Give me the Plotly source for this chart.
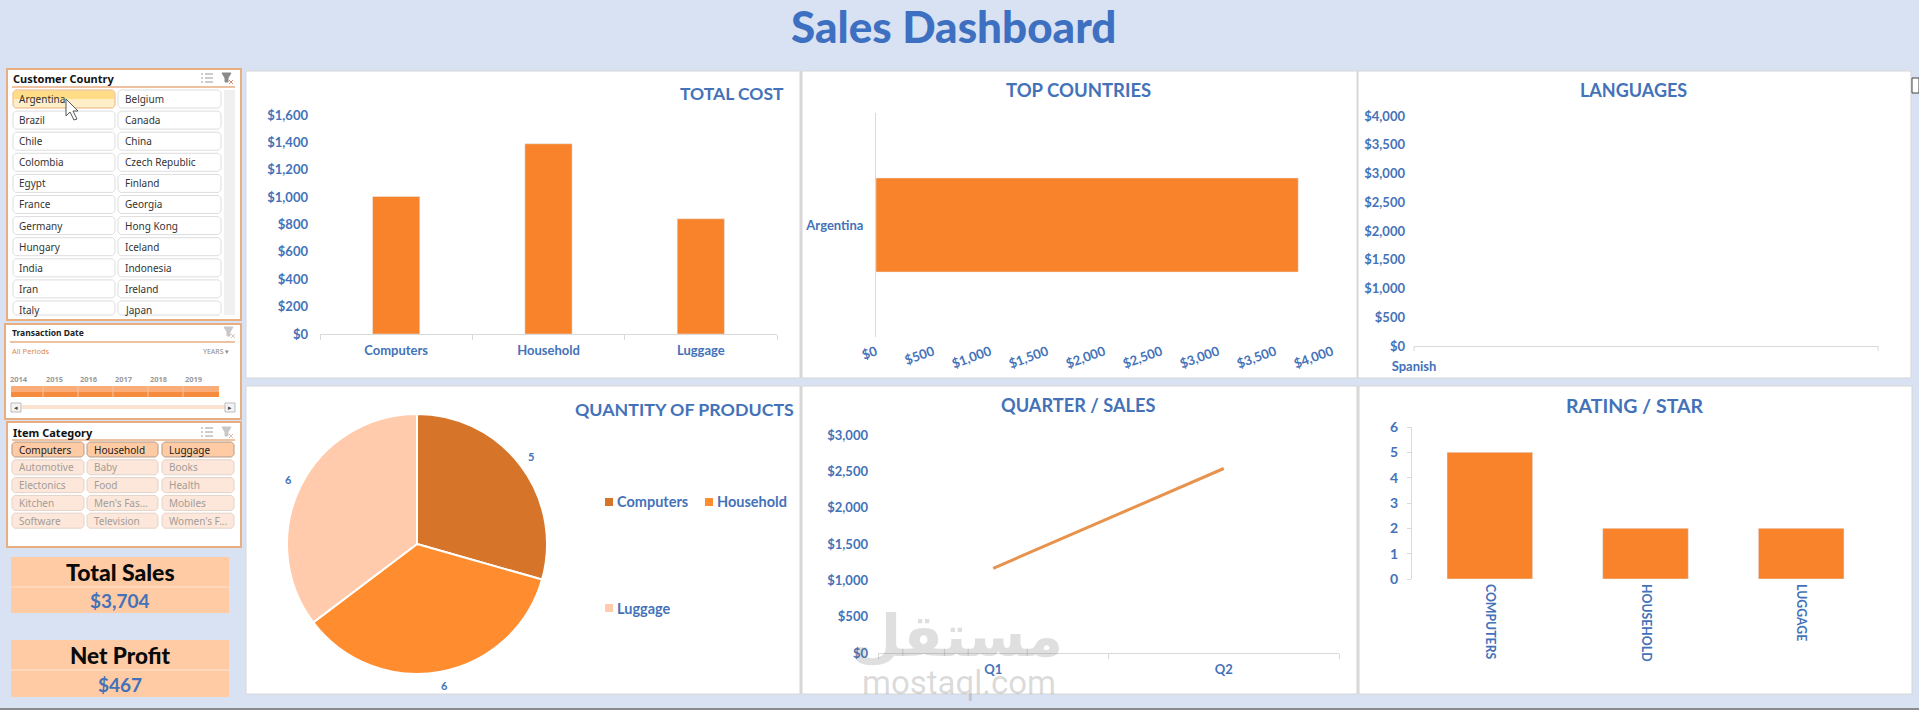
import plotly.graph_objects as go

W = 1919
H = 710

# chart data
products = ['Computers', 'Household', 'Luggage']
cost_values = [1005, 1390, 842]
countries = ['Argentina']
country_sales = [3704]
languages = ['Spanish']
language_sales = [3704]
quantity_values = [5, 6, 6]
quarters = ['Q1', 'Q2']
quarter_sales = [1165, 2539]
rating_labels = ['COMPUTERS', 'HOUSEHOLD', 'LUGGAGE']
rating_values = [5, 2, 2]

# slicer contents
country_col1 = ['Argentina', 'Brazil', 'Chile', 'Colombia', 'Egypt', 'France',
                'Germany', 'Hungary', 'India', 'Iran', 'Italy']
country_col2 = ['Belgium', 'Canada', 'China', 'Czech Republic', 'Finland', 'Georgia',
                'Hong Kong', 'Iceland', 'Indonesia', 'Ireland', 'Japan']
years = ['2014', '2015', '2016', '2017', '2018', '2019']
item_rows = [['Computers', 'Household', 'Luggage'],
             ['Automotive', 'Baby', 'Books'],
             ['Electonics', 'Food', 'Health'],
             ['Kitchen', "Men's Fas...", 'Mobiles'],
             ['Software', 'Television', "Women's F..."]]
total_sales = '$3,704'
net_profit = '$467'

BG = '#D9E2F3'
BLUE = '#4472B8'
TITLE_BLUE = '#3E70C1'
ORANGE = '#F8832B'
PIE_COLORS = ['#D6742A', '#FF8D30', '#FFCBAC']
BORDER = '#E9AE80'
PEACH = '#FFCBA4'
SANS = 'Lato'
SLICER = 'Noto Sans'

shapes = []
notes = []


def px(x):
    return x / W


def py(y):
    return 1 - y / H


def rect(x0, y0, x1, y1, fill, line=None, width=1):
    shapes.append(dict(type='rect', xref='paper', yref='paper', layer='below',
                       x0=px(x0), x1=px(x1), y0=py(y0), y1=py(y1), fillcolor=fill,
                       line=dict(color=line, width=width if line else 0)))


def seg(x0, y0, x1, y1, color, width=1):
    shapes.append(dict(type='line', xref='paper', yref='paper', layer='below',
                       x0=px(x0), x1=px(x1), y0=py(y0), y1=py(y1),
                       line=dict(color=color, width=width)))


def poly(points, fill, line, width=1):
    path = 'M ' + ' L '.join('%.5f %.5f' % (px(a), py(b)) for a, b in points) + ' Z'
    shapes.append(dict(type='path', xref='paper', yref='paper', layer='below', path=path,
                       fillcolor=fill, line=dict(color=line, width=width)))


def button(x0, y0, x1, y1, fill, line, r=2.5):
    pts = [(x0 + r, y0), (x1 - r, y0), (x1, y0 + r), (x1, y1 - r),
           (x1 - r, y1), (x0 + r, y1), (x0, y1 - r), (x0, y0 + r)]
    poly(pts, fill, line)


def text(x, y, s, size, color=BLUE, weight='normal', family=SANS, anchor='center', angle=0):
    notes.append(dict(xref='paper', yref='paper', x=px(x), y=py(y), text=s, showarrow=False,
                      xanchor=anchor, yanchor='middle', textangle=angle,
                      font=dict(size=size, color=color, family=family, weight=weight)))


def multi_icon(x, y, color='#9A9A9A'):
    for k in (-4, 0, 4):
        seg(x - 2, y + k, x + 6, y + k, color, 1)
        seg(x - 6, y + k, x - 4, y + k, color, 1)


def filter_icon(x, y, color='#8A8A8A', mark='#D98A6A'):
    poly([(x - 5, y - 5), (x + 4, y - 5), (x + 1, y), (x + 1, y + 4), (x - 2, y + 4), (x - 2, y)],
         color, color)
    seg(x + 2, y + 2, x + 6, y + 6, mark, 1)
    seg(x + 6, y + 2, x + 2, y + 6, mark, 1)


# dashboard panels, gray strip between neighbours
rect(800, 71, 1358, 378, '#D9D9D9')
rect(800, 386, 1359, 694, '#D9D9D9')
for x0, x1 in ((246, 800), (802, 1357), (1358, 1911)):
    rect(x0, 71, x1, 378, 'white', '#D6D6D6')
for x0, x1 in ((246, 800), (802, 1357), (1359, 1912)):
    rect(x0, 386, x1, 694, 'white', '#D6D6D6')

text(953, 26, 'Sales Dashboard', 44, TITLE_BLUE, 900)

# customer country slicer
rect(7, 69, 241, 320, 'white', BORDER, 2)
text(11, 79, 'Customer Country', 11, '#111111', 'bold', SLICER, 'left')
seg(12, 87, 235, 87, BORDER, 1.5)
multi_icon(207, 78)
filter_icon(227, 78)
rect(224, 90, 235, 315, '#F0F0F0')
for i, (left, right) in enumerate(zip(country_col1, country_col2)):
    top = 90 + 21.1 * i
    bottom = min(top + 18, 315)
    if i == 0:
        button(13, top, 115, bottom, '#FFEFC8', '#E6B27E')
        rect(14, top + 1, 114, top + 9, '#FFDC85')
    else:
        button(13, top, 115, bottom, 'white', '#DDDDDD')
    button(118, top, 221, bottom, 'white', '#DDDDDD')
    text(17, top + 9, left, 10, '#333333', family=SLICER, anchor='left')
    text(123, top + 9, right, 10, '#333333', family=SLICER, anchor='left')

# mouse pointer over the first button
poly([(66, 99), (66, 116), (70, 112), (74, 120), (77, 119), (73, 111), (78, 111)],
     'white', '#555555')

# transaction date slicer
rect(5, 324, 241, 419, 'white', BORDER, 2)
text(10, 332, 'Transaction Date', 8.5, '#222222', 'bold', SLICER, 'left')
seg(10, 342, 235, 342, BORDER, 1.5)
filter_icon(229, 332, '#C8C8C8', '#E0C0B0')
text(10, 351, 'All Periods', 7.5, '#E08A45', family=SLICER, anchor='left')
text(231, 351, 'YEARS ▾', 7, '#8A8A8A', family=SLICER, anchor='right')
rect(11, 386, 219, 397, '#FAAD78')
rect(11, 392, 219, 397, '#F58B3D')
for i, year in enumerate(years):
    text(19 + 35 * i, 379, year, 7.5, '#9A9A9A', 'bold', SLICER)
for x in (43, 78, 113, 148, 183):
    seg(x, 386, x, 397, '#F9C5A0', 1)
rect(22, 405, 225, 409, '#FCE3D1')
for x0 in (11, 225):
    rect(x0, 403, x0 + 10, 412, '#F4F4F4', '#BBBBBB')
text(16, 407.5, '◂', 7, '#444444', family='DejaVu Sans')
text(230, 407.5, '▸', 7, '#444444', family='DejaVu Sans')

# item category slicer
rect(7, 422, 241, 547, 'white', BORDER, 2)
text(11, 432, 'Item Category', 11, '#111111', 'bold', SLICER, 'left')
seg(12, 440, 235, 440, BORDER, 1.5)
multi_icon(207, 432)
filter_icon(227, 432, '#C8C8C8', '#E0C0B0')
item_cols = [(12, 84), (87, 158), (162, 234)]
for i, row in enumerate(item_rows):
    top = 442 + 17.8 * i
    for (x0, x1), name in zip(item_cols, row):
        if i == 0:
            button(x0, top, x1, top + 15, PEACH, '#B49A88')
            text(x0 + 5, top + 7.5, name, 10, '#222222', family=SLICER, anchor='left')
        else:
            button(x0, top, x1, top + 15, '#FDE7DA', '#E2D3C9')
            text(x0 + 5, top + 7.5, name, 10, '#A39D98', family=SLICER, anchor='left')

# total sales and net profit boxes
rect(11, 557, 229, 613, PEACH)
seg(11, 587, 229, 587, '#FFE6D5', 1)
text(120, 572, 'Total Sales', 23, '#0A0A0A', 900)
text(120, 600, total_sales, 19, BLUE, 'bold')
rect(11, 640, 229, 697, PEACH)
seg(11, 670, 229, 670, '#FFE6D5', 1)
text(120, 655, 'Net Profit', 22.5, '#0A0A0A', 900)
text(120, 684, net_profit, 19, BLUE, 'bold')

# panel titles
text(732, 93, 'TOTAL COST', 17.5, BLUE, 'bold')
text(1078, 90, 'TOP COUNTRIES', 18.5, BLUE, 'bold')
text(1633, 90, 'LANGUAGES', 18, BLUE, 'bold')
text(684, 409, 'QUANTITY OF PRODUCTS', 17.8, BLUE, 'bold')
text(1078, 405, 'QUARTER / SALES', 18.2, BLUE, 'bold')
text(1634, 405, 'RATING / STAR', 19.5, BLUE, 'bold')

# pie legend, spaced the way the sheet has it
for (lx, ly), name, col in zip(((605, 502), (705, 502), (605, 608)), products, PIE_COLORS):
    rect(lx, ly - 4, lx + 8, ly + 4, col)
    text(lx + 10, ly, name, 14.5, BLUE, 'bold', anchor='left')

# pie value labels sit further out than plotly would put them
for (lx, ly), val in zip(((531, 456), (444, 685), (288, 479)), quantity_values):
    text(lx, ly, str(val), 11, BLUE, 'bold')

# axis end ticks of the languages chart
seg(1414, 346, 1414, 351, '#D9D9D9', 1)
seg(1878, 346, 1878, 351, '#D9D9D9', 1)

# watermark
text(957, 636, 'مستقل', 58, 'rgba(110,110,110,0.22)', 'bold', 'DejaVu Sans')
text(959, 682, 'mostaql.com', 33, 'rgba(110,110,110,0.25)', 'normal', 'Roboto')

# odds and ends at the window edge
rect(1912, 78, 1919, 93, 'white', '#444444')
seg(0, 709, W, 709, '#6E6E6E', 1.5)

fig = go.Figure()

tick_font = dict(size=13, color=BLUE, family=SANS, weight='bold')
AXIS = '#D9D9D9'


def dom(a, b):
    return [a / W, b / W]


def vdom(top, bottom):
    return [1 - bottom / H, 1 - top / H]


fig.add_trace(go.Bar(x=products, y=cost_values, width=0.31, marker_color=ORANGE, xaxis='x', yaxis='y',
                     showlegend=False))
fig.add_trace(go.Bar(x=country_sales, y=countries, orientation='h', width=0.42, marker_color=ORANGE,
                     xaxis='x2', yaxis='y2', showlegend=False))
fig.add_trace(go.Scatter(x=languages, y=language_sales, mode='lines', line_color=ORANGE,
                         xaxis='x3', yaxis='y3', showlegend=False))
fig.add_trace(go.Pie(labels=products, values=quantity_values, sort=False, direction='clockwise',
                     rotation=0, textinfo='none',
                     marker=dict(colors=PIE_COLORS, line=dict(color='white', width=2)),
                     domain=dict(x=dom(287, 547), y=vdom(414, 674)), showlegend=False))
fig.add_trace(go.Scatter(x=quarters, y=quarter_sales, mode='lines',
                         line=dict(color='#E8934D', width=3), xaxis='x5', yaxis='y5',
                         showlegend=False))
fig.add_trace(go.Bar(x=rating_labels, y=rating_values, width=0.55, marker_color=ORANGE, xaxis='x6', yaxis='y6',
                     showlegend=False))

money = dict(tickprefix='$', tickformat=',', showgrid=False, zeroline=False, tickfont=tick_font)

fig.update_layout(
    width=W,
    height=H,
    margin=dict(l=0, r=0, t=0, b=0),
    paper_bgcolor=BG,
    plot_bgcolor='rgba(0,0,0,0)',
    shapes=shapes,
    annotations=notes,
    xaxis=dict(domain=dom(320, 777), anchor='y', tickson='boundaries', ticks='outside', ticklen=5,
               tickcolor=AXIS, showline=True, linecolor=AXIS, showgrid=False, tickfont=tick_font,
               ticklabelstandoff=4),
    yaxis=dict(domain=vdom(115, 334), anchor='x', range=[0, 1600], dtick=200,
               ticklabelstandoff=11, **money),
    xaxis2=dict(domain=dom(876, 1332), anchor='y2', range=[0, 4000], dtick=500, tickangle=-20,
                ticklabelstandoff=4, **money),
    yaxis2=dict(domain=vdom(113, 337), anchor='x2', range=[-0.5, 0.5], showline=True, linecolor=AXIS,
                showgrid=False, tickfont=tick_font, ticklabelstandoff=9),
    xaxis3=dict(domain=dom(1414, 1878), anchor='y3', range=[0, 1], tickmode='array', tickvals=[0],
                ticktext=languages, showline=True, linecolor=AXIS, showgrid=False, tickfont=tick_font,
                ticklabelstandoff=8),
    yaxis3=dict(domain=vdom(116, 346), anchor='x3', range=[0, 4000], dtick=500,
                ticklabelstandoff=8, **money),
    xaxis5=dict(domain=dom(878, 1339), anchor='y5', range=[-0.5, 1.5], tickson='boundaries',
                ticks='outside', ticklen=5, tickcolor=AXIS, showline=True, linecolor=AXIS, showgrid=False,
                tickfont=tick_font, ticklabelstandoff=4),
    yaxis5=dict(domain=vdom(435, 653), anchor='x5', range=[0, 3000], dtick=500,
                ticklabelstandoff=9, **money),
    xaxis6=dict(domain=dom(1412, 1879), anchor='y6', showgrid=False, showline=False, tickangle=90,
                tickfont=dict(size=12.3, color=BLUE, family=SANS, weight='bold'), ticklabelstandoff=4),
    yaxis6=dict(domain=vdom(427, 579), anchor='x6', range=[0, 6], dtick=1, showgrid=False, zeroline=False,
                showline=True, linecolor=AXIS, ticks='outside', ticklen=4, tickcolor=AXIS,
                tickfont=dict(tick_font, size=14), ticklabelstandoff=6),
)
# the default template grows the margins around tick labels, which moves everything
fig.update_xaxes(automargin=False)
fig.update_yaxes(automargin=False)

fig.write_html('out.html', config=dict(displayModeBar=False),
               post_script="document.body.style.margin='0';document.body.style.overflow='hidden';")
